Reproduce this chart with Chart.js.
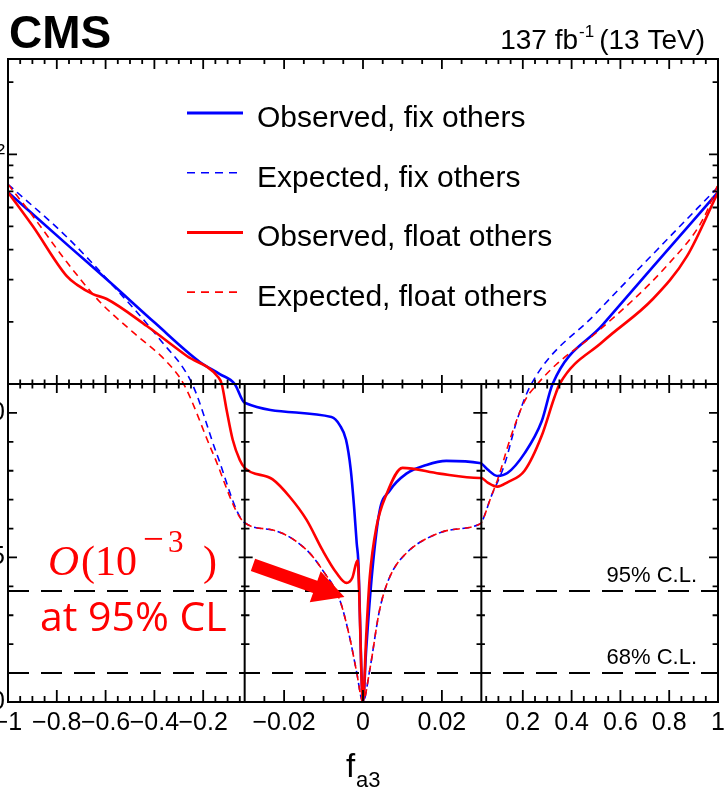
<!DOCTYPE html>
<html>
<head>
<meta charset="utf-8">
<script src="https://cdn.jsdelivr.net/npm/chart.js@4.4.1/dist/chart.umd.min.js"></script>
<style>
  html, body { margin: 0; padding: 0; background: #fff; }
  canvas { display: block; }
</style>
</head>
<body>
<canvas id="chart" width="725" height="789"></canvas>
<script>
// -2 Delta lnL scans versus f_a3
const obsFixF = [-1, -0.746, -0.583, -0.398, -0.214, -0.132, -0.071, -0.03, -0.008, -0.0059, -0.0043, -0.0031, -0.0022, -0.0016, -0.0012, 0, 0.0008, 0.0024, 0.0042, 0.0067, 0.011, 0.0161, 0.0211, 0.0295, 0.03, 0.0547, 0.0958, 0.137, 0.207, 0.277, 0.322, 0.527, 0.733, 1];
const obsFixV = [69.5, 41.0, 29.3, 19.8, 13.6, 12.1, 11.0, 10.35, 9.86, 9.58, 9.07, 8.03, 6.64, 5.5, 4.9, 0, 1.8, 4.6, 6.6, 7.3, 7.9, 8.2, 8.34, 8.27, 8.25, 8.05, 7.82, 7.92, 8.6, 9.7, 11.0, 19.4, 33.9, 69.5];

const expFixF = [-1, -0.758, -0.583, -0.378, -0.245, -0.145, -0.03, -0.0229, -0.0143, -0.0103, -0.0059, -0.0034, -0.0017, 0, 0.0017, 0.0042, 0.0067, 0.011, 0.0194, 0.0295, 0.03, 0.07, 0.1245, 0.178, 0.235, 0.5, 0.75, 1];
const expFixV = [75, 45.1, 29.3, 16.9, 11.0, 8.6, 6.2, 5.95, 5.26, 4.57, 3.53, 2.25, 1.1, 0, 1.1, 3.18, 4.3, 5.15, 5.85, 6.15, 6.2, 7.1, 8.2, 9.8, 11.0, 21.7, 39.9, 73];

const obsFloatF = [-1, -0.898, -0.759, -0.718, -0.652, -0.595, -0.431, -0.267, -0.14, -0.124, -0.104, -0.079, -0.05, -0.03, -0.0229, -0.0186, -0.0143, -0.0103, -0.0067, -0.0042, -0.0027, -0.0014, 0, 0.0008, 0.0017, 0.0034, 0.006, 0.01, 0.0194, 0.0295, 0.03, 0.0547, 0.0958, 0.137, 0.207, 0.277, 0.33, 0.351, 0.527, 0.733, 0.873, 1];
const obsFloatV = [69.5, 50.1, 31.0, 28.6, 26.1, 24.9, 19.2, 14.4, 11.8, 11.0, 10.1, 9.07, 8.37, 8.1, 7.7, 7.1, 6.3, 5.26, 4.46, 4.12, 4.3, 4.9, 0, 2.25, 4.3, 6.05, 7.2, 8.1, 7.9, 7.75, 7.75, 7.6, 7.45, 7.6, 8.0, 9.2, 10.55, 11.0, 16.5, 24.9, 37.6, 69.5];

const expFloatF = [-1, -0.898, -0.759, -0.623, -0.488, -0.349, -0.28, -0.16, -0.03, -0.0229, -0.0143, -0.0103, -0.0059, -0.0034, -0.0017, 0, 0.0017, 0.0042, 0.0067, 0.011, 0.0194, 0.0295, 0.03, 0.07, 0.097, 0.152, 0.207, 0.26, 0.338, 0.501, 0.803, 0.939, 1];
const expFloatV = [75, 55.2, 35.5, 24.2, 18.1, 13.6, 11.0, 8.6, 6.2, 5.95, 5.26, 4.57, 3.53, 2.25, 1.1, 0, 1.1, 3.18, 4.3, 5.15, 5.85, 6.15, 6.2, 7.1, 7.7, 9.2, 10.4, 11.0, 13.3, 18.0, 35.4, 53.7, 75];

const seriesNames = ['Observed, fix others', 'Expected, fix others', 'Observed, float others', 'Expected, float others'];

const xTickValues = [-1, -0.8, -0.6, -0.4, -0.2, -0.02, 0, 0.02, 0.2, 0.4, 0.6, 0.8, 1];
const xTickLabels = ['\u22121', '\u22120.8', '\u22120.6', '\u22120.4', '\u22120.2', '\u22120.02', '0', '0.02', '0.2', '0.4', '0.6', '0.8', '1'];
const yTickValues = [0, 5, 10, 100];
const yTickLabels = ['0', '5', '10', '10\u00b2'];
const yLogMinor = [20, 30, 40, 50, 60, 70, 80, 90, 200];

const clLevels = [1, 3.84];
const clLabels = ['68% C.L.', '95% C.L.'];

// axis breaks: three equal x panels, linear y up to 11 then log
const X_EDGE = 0.03;
const Y_BREAK = 11;
const Y_TOP = 250;
const Y_SPLIT = 318 / 643;

function xFrac(f) {
  if (f < -X_EDGE) return (f + 1) / (1 - X_EDGE) / 3;
  if (f <= X_EDGE) return 1 / 3 + (f + X_EDGE) / (2 * X_EDGE) / 3;
  return 2 / 3 + (f - X_EDGE) / (1 - X_EDGE) / 3;
}
function yFrac(v) {
  if (v <= Y_BREAK) return v / Y_BREAK * Y_SPLIT;
  return Y_SPLIT + Math.log(v / Y_BREAK) / Math.log(Y_TOP / Y_BREAK) * (1 - Y_SPLIT);
}

class BrokenXScale extends Chart.LinearScale {
  static id = 'brokenX';
  getPixelForValue(v) { return this.getPixelForDecimal(xFrac(v)); }
}
class BrokenYScale extends Chart.LinearScale {
  static id = 'brokenY';
  getPixelForValue(v) { return this.getPixelForDecimal(yFrac(v)); }
}
Chart.register(BrokenXScale, BrokenYScale);

function range(from, to, step) {
  const out = [];
  for (let v = from; v <= to + 1e-9; v += step) out.push(+v.toFixed(4));
  return out;
}
const xMinor = [...range(-0.95, -0.05, 0.05), ...range(-0.025, 0.025, 0.005), ...range(0.05, 0.95, 0.05)]
  .filter(v => !xTickValues.some(t => Math.abs(t - v) < 1e-6));
const yLinMinor = range(1, 9, 1).filter(v => v !== 5);

const pts = (fs, vs) => fs.map((f, i) => ({ x: f, y: vs[i] }));

const FONT = '"Liberation Sans", Arial, Helvetica, sans-serif';
const SERIF = '"Liberation Serif", "Times New Roman", serif';

const decor = {
  id: 'decor',
  afterDatasetsDraw(chart) {
    const { ctx, chartArea: a } = chart;
    const x = chart.scales.x, y = chart.scales.y;
    const yb = y.getPixelForValue(Y_BREAK);
    const xl = x.getPixelForValue(-X_EDGE), xr = x.getPixelForValue(X_EDGE);
    const seg = (x1, y1, x2, y2) => { ctx.moveTo(x1, y1); ctx.lineTo(x2, y2); };

    ctx.save();

    // confidence level lines
    ctx.strokeStyle = '#000';
    ctx.lineWidth = 2;
    ctx.setLineDash([21, 12]);
    ctx.beginPath();
    clLevels.forEach(v => { const py = y.getPixelForValue(v); seg(a.left, py, a.right, py); });
    ctx.stroke();
    ctx.setLineDash([]);
    ctx.fillStyle = '#000';
    ctx.font = '22px ' + FONT;
    ctx.textAlign = 'right';
    ctx.textBaseline = 'alphabetic';
    clLevels.forEach((v, i) => ctx.fillText(clLabels[i], a.right - 21, y.getPixelForValue(v) - 9));

    // frame, break line and panel dividers
    ctx.lineWidth = 2;
    ctx.strokeRect(a.left, a.top, a.right - a.left, a.bottom - a.top);
    ctx.beginPath();
    seg(a.left, yb, a.right, yb);
    seg(xl, yb, xl, a.bottom);
    seg(xr, yb, xr, a.bottom);
    ctx.stroke();

    // ticks
    ctx.lineWidth = 1.8;
    ctx.beginPath();
    const xt = [...xTickValues.map(v => [v, 1]), ...xMinor.map(v => [v, 0.5])];
    xt.forEach(([v, s]) => {
      const px = x.getPixelForValue(v);
      seg(px, a.top, px, a.top + 10 * s);
      seg(px, yb - 9 * s, px, yb + 9 * s);
      seg(px, a.bottom, px, a.bottom - 12 * s);
    });
    const ylin = [[0, 1], [5, 1], [10, 1], ...yLinMinor.map(v => [v, 0.6])];
    ylin.forEach(([v, s]) => {
      const py = y.getPixelForValue(v);
      seg(a.left, py, a.left + 9 * s, py);
      seg(a.right, py, a.right - 9 * s, py);
      seg(xl - 6 * s, py, xl + 8 * s, py);
      seg(xr - 8 * s, py, xr + 6 * s, py);
    });
    const ylog = [[100, 1], ...yLogMinor.map(v => [v, 0.6])];
    ylog.forEach(([v, s]) => {
      const py = y.getPixelForValue(v);
      seg(a.left, py, a.left + 9 * s, py);
      seg(a.right, py, a.right - 9 * s, py);
    });
    ctx.stroke();

    // tick labels
    ctx.font = '25px ' + FONT;
    ctx.textAlign = 'center';
    ctx.textBaseline = 'top';
    xTickValues.forEach((v, i) => ctx.fillText(xTickLabels[i], x.getPixelForValue(v), a.bottom + 9));
    ctx.textAlign = 'right';
    ctx.textBaseline = 'middle';
    yTickValues.forEach((v, i) => ctx.fillText(yTickLabels[i], a.left - 3, y.getPixelForValue(v)));

    // axis title
    ctx.textAlign = 'left';
    ctx.textBaseline = 'alphabetic';
    ctx.font = '33px ' + FONT;
    ctx.fillText('f', 346, 777);
    ctx.font = '22px ' + FONT;
    ctx.fillText('a3', 356, 787);

    // legend
    ctx.font = '30px ' + FONT;
    chart.data.datasets.forEach((ds, i) => {
      const ly = 113 + i * 59.7;
      ctx.strokeStyle = ds.borderColor;
      ctx.lineWidth = ds.borderDash.length ? 1.6 : 3;
      ctx.setLineDash(ds.borderDash.length ? [8, 6] : []);
      ctx.beginPath();
      seg(187, ly, ds.borderDash.length ? 239 : 243, ly);
      ctx.stroke();
      ctx.setLineDash([]);
      ctx.fillText(ds.label, 257, ly + 14);
    });

    // header
    ctx.fillStyle = '#000';
    ctx.font = 'bold 46px ' + FONT;
    ctx.fillText('CMS', 9, 48);
    ctx.textAlign = 'right';
    ctx.font = '28px ' + FONT;
    let rx = 705;
    ctx.fillText('(13 TeV)', rx, 49);
    rx -= ctx.measureText('(13 TeV)').width + 5;
    ctx.font = '17px ' + FONT;
    ctx.fillText('-1', rx, 37);
    rx -= ctx.measureText('-1').width + 1;
    ctx.font = '28px ' + FONT;
    ctx.fillText('137 fb', rx, 49);

    // annotation: arrow and text
    ctx.fillStyle = '#ff0000';
    const tail = { x: x.getPixelForValue(-0.0279), y: y.getPixelForValue(4.74) };
    const tip = { x: x.getPixelForValue(-0.0047), y: y.getPixelForValue(3.63) };
    const dx = tip.x - tail.x, dy = tip.y - tail.y, len = Math.hypot(dx, dy);
    const ux = dx / len, uy = dy / len, nx = -uy, ny = ux;
    const head = 31, hw = 16.5, sw = 6.5;
    const bx = tip.x - ux * head, by = tip.y - uy * head;
    ctx.beginPath();
    ctx.moveTo(tail.x + nx * sw, tail.y + ny * sw);
    ctx.lineTo(bx + nx * sw, by + ny * sw);
    ctx.lineTo(bx + nx * hw, by + ny * hw);
    ctx.lineTo(tip.x, tip.y);
    ctx.lineTo(bx - nx * hw, by - ny * hw);
    ctx.lineTo(bx - nx * sw, by - ny * sw);
    ctx.lineTo(tail.x - nx * sw, tail.y - ny * sw);
    ctx.closePath();
    ctx.fill();

    ctx.textAlign = 'left';
    ctx.font = 'italic 43px ' + SERIF;
    ctx.fillText('O', 48, 575);
    ctx.font = '42px ' + SERIF;
    ctx.fillText('(10', 81, 575);
    ctx.font = '37px ' + SERIF;
    ctx.fillText('\u2212', 143, 551);
    ctx.font = '31px ' + SERIF;
    ctx.fillText('3', 168, 552);
    ctx.font = '42px ' + SERIF;
    ctx.fillText(')', 203, 575);
    ctx.font = '41px "Open Sans", "Noto Sans", sans-serif';
    ctx.fillText('at 95% CL', 40, 631);

    ctx.restore();
  }
};

new Chart(document.getElementById('chart').getContext('2d'), {
  type: 'line',
  data: {
    datasets: [
      { label: seriesNames[0], data: pts(obsFixF, obsFixV), borderColor: '#0000ff', borderWidth: 2.6, borderDash: [], order: 1 },
      { label: seriesNames[1], data: pts(expFixF, expFixV), borderColor: '#0000ff', borderWidth: 1.6, borderDash: [7, 5], order: 1 },
      { label: seriesNames[2], data: pts(obsFloatF, obsFloatV), borderColor: '#ff0000', borderWidth: 2.6, borderDash: [], order: 0 },
      { label: seriesNames[3], data: pts(expFloatF, expFloatV), borderColor: '#ff0000', borderWidth: 1.6, borderDash: [7, 5], order: 0 }
    ]
  },
  options: {
    responsive: false,
    animation: false,
    events: [],
    layout: { padding: { left: 8, right: 7, top: 59, bottom: 87 } },
    elements: {
      point: { radius: 0 },
      line: { cubicInterpolationMode: 'monotone', fill: false }
    },
    scales: {
      x: { type: 'brokenX', min: -1, max: 1, display: false },
      y: { type: 'brokenY', min: 0, max: Y_TOP, display: false }
    },
    plugins: {
      legend: { display: false },
      tooltip: { enabled: false }
    }
  },
  plugins: [decor]
});
</script>
</body>
</html>
